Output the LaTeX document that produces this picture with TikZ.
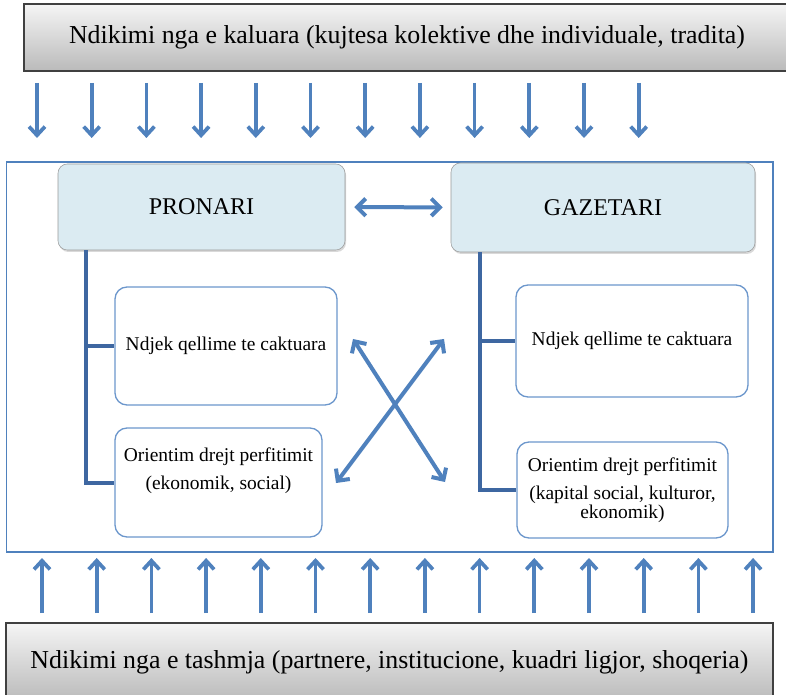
\documentclass[tikz,border=0pt]{standalone}
\usepackage{fontspec}
\setmainfont{Liberation Serif}
\usetikzlibrary{arrows.meta,shadows}

\definecolor{arrowblue}{HTML}{4F81BD}
\definecolor{treeblue}{HTML}{3E67A1}
\definecolor{headfill}{HTML}{DBEBF2}
\definecolor{boxline}{HTML}{6C97CC}

\begin{document}
\begin{tikzpicture}[x=0.75pt,y=-0.75pt,
	influence/.style={draw=black!75,line width=1pt,top color=black!4,bottom color=black!27,font=\fontsize{19.4}{23}\selectfont},
	actor/.style={draw=black!40,fill=headfill,rounded corners=7pt,font=\fontsize{18}{22}\selectfont,drop shadow={opacity=0.3,shadow xshift=0.8pt,shadow yshift=-1.5pt}},
	info/.style={draw=boxline,line width=1pt,fill=white,rounded corners=9pt,align=center,font=\fontsize{14.6}{14}\selectfont},
	infotext/.style={align=center,font=\fontsize{14.6}{14}\selectfont},
	field/.style={draw=arrowblue,line width=1pt},
	tree/.style={draw=treeblue,line width=3pt},
	flow/.style={draw=arrowblue,line width=2.8pt,-{Straight Barb[length=6.5pt,width=12pt]}},
	both/.style={draw=arrowblue,line width=3pt,{Straight Barb[length=6.5pt,width=13pt]}-{Straight Barb[length=6.5pt,width=13pt]}}]
\useasboundingbox (0,0) rectangle (786,695);
\clip (0,0) rectangle (786,695);

% outer influences
\node[influence,minimum width=574.5pt,minimum height=50.25pt] (past) at (407,37.5) {Ndikimi nga e kaluara (kujtesa kolektive dhe individuale, tradita)};
\node[influence,minimum width=575.25pt,minimum height=58.5pt] (present) at (389.5,662) {Ndikimi nga e tashmja (partnere, institucione, kuadri ligjor, shoqeria)};
\foreach \i in {0,...,11}
{
	\coordinate (down\i) at (37+54.7*\i,83);
	\draw[flow] (down\i) -- ++(0,55);
}
\foreach \i in {0,...,13}
{
	\coordinate (up\i) at (42+54.7*\i,613);
	\draw[flow] (up\i) -- ++(0,-55);
}

% the field
\node[field,minimum width=574.9pt,minimum height=292.5pt] (field) at (389.75,357) {};
\node[actor,minimum width=215.25pt,minimum height=64.5pt] (pronari) at (201.5,207) {PRONARI};
\node[actor,minimum width=228pt,minimum height=66.75pt] (gazetari) at (603,207.5) {GAZETARI};
\draw[both,shorten <=6.75pt,shorten >=6pt] (pronari) -- (gazetari);

\node[info,minimum width=166.5pt,minimum height=88.5pt] (pgoal) at (226,346) {Ndjek qellime te caktuara};
\node[info,minimum width=155.25pt,minimum height=81.75pt] (pgain) at (218.5,482.5) {};
\node[infotext] (pgaintext) at (218.5,471) {Orientim drejt perfitimit\\[7pt](ekonomik, social)};
\node[info,minimum width=174pt,minimum height=84pt] (ggoal) at (632,341) {Ndjek qellime te caktuara};
\node[info,minimum width=158.25pt,minimum height=72pt] (ggain) at (622.5,490) {Orientim drejt perfitimit\\[7pt](kapital social, kulturor,\\ekonomik)};

\coordinate (pstem) at ([xshift=-21pt]pgain.west);
\coordinate (gstem) at ([xshift=-27pt]ggain.west);
\draw[tree] (pstem |- pronari.south) -- (pstem) -- (pgain.west);
\draw[tree] (pstem |- pgoal.west) -- (pgoal.west);
\draw[tree] (gstem |- gazetari.south) -- (gstem) -- (ggain.west);
\draw[tree] (gstem |- ggoal.west) -- (ggoal.west);

\coordinate (xa1) at (353,339);
\coordinate (xa2) at (445,482);
\coordinate (xb1) at (444,339);
\coordinate (xb2) at (336,483);
\draw[both] (xa1) -- (xa2);
\draw[both] (xb1) -- (xb2);
\end{tikzpicture}
\end{document}
